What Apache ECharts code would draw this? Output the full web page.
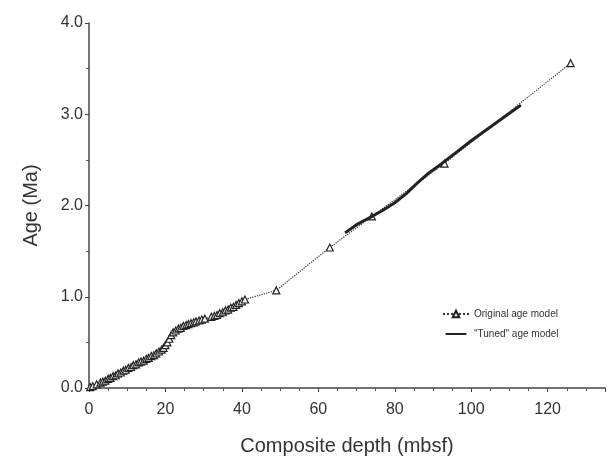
<!DOCTYPE html>
<html>
<head>
<meta charset="utf-8">
<script src="https://cdn.jsdelivr.net/npm/echarts@6/dist/echarts.min.js"></script>
<style>html,body{margin:0;padding:0;background:#fff;}#c{width:608px;height:468px;}</style>
</head>
<body>
<div id="c"></div>
<script>
// Original age model (depth mbsf, age Ma)
const origDepth = [0.3,1,2,3,3.6,4.3,5,5.6,6.3,7,7.6,8.3,9,9.6,10.3,11,11.6,12.3,13,13.6,14.3,15,15.6,16.3,17,17.6,18.3,19,19.5,20,20.5,21,21.5,22,22.7,23.4,24,24.7,25.4,26,26.7,27.4,28,28.8,29.5,30.3,32,32.8,33.5,34.2,35,35.7,36.4,37.1,37.8,38.5,39.2,40,40.8,49,63,74,93,126];
const origAge   = [0.01,0.02,0.04,0.06,0.07,0.08,0.1,0.11,0.13,0.14,0.16,0.17,0.19,0.2,0.22,0.23,0.25,0.26,0.28,0.29,0.3,0.32,0.33,0.35,0.36,0.38,0.4,0.42,0.44,0.47,0.5,0.54,0.58,0.61,0.63,0.65,0.66,0.68,0.69,0.7,0.71,0.72,0.73,0.74,0.75,0.76,0.78,0.79,0.8,0.82,0.83,0.85,0.86,0.88,0.89,0.91,0.93,0.95,0.97,1.07,1.54,1.88,2.46,3.56];
// "Tuned" age model
const tunedDepth = [67,70,74,77,80,83,86,89,92,96,100,104,108,113];
const tunedAge   = [1.7,1.79,1.88,1.95,2.03,2.13,2.25,2.36,2.45,2.58,2.71,2.83,2.95,3.1];
const xTicks = [0,20,40,60,80,100,120];
const yTicks = [0.0,1.0,2.0,3.0,4.0];

const chart = echarts.init(document.getElementById('c'));
const font = 'Liberation Sans, Arial, Helvetica, sans-serif';
chart.setOption({
  animation:false,
  backgroundColor:'#fff',
  grid:{left:89,right:3,top:23,bottom:80},
  legend:{
    orient:'vertical', left:437, top:304, itemGap:10, itemWidth:26, itemHeight:8,
    textStyle:{fontFamily:font,fontSize:10,color:'#333'},
    data:[
      {name:'Original age model'},
      {name:'"Tuned" age model', icon:'path://M0,0 L0.01,0 M0,3.6 L26,3.6 L26,6.4 L0,6.4 Z M0,10 L0.01,10', itemStyle:{color:'#222',borderWidth:0}}
    ]
  },
  xAxis:{
    type:'value', min:0, max:135, interval:20,
    name:'Composite depth (mbsf)', nameLocation:'middle', nameGap:48,
    nameTextStyle:{fontFamily:font,fontSize:20,color:'#333'},
    axisLine:{lineStyle:{color:'#444',width:1.5}},
    axisTick:{show:true,length:4,inside:false,lineStyle:{color:'#444'}},
    minorTick:{show:true,splitNumber:4,length:3,lineStyle:{color:'#555'}},
    axisLabel:{fontFamily:font,fontSize:16,color:'#333',margin:14,showMaxLabel:false,
      formatter:v=>xTicks.includes(v)?String(v):''},
    splitLine:{show:false}
  },
  yAxis:{
    type:'value', min:0, max:4, interval:1,
    name:'Age (Ma)', nameLocation:'middle', nameGap:48,
    nameTextStyle:{fontFamily:font,fontSize:20,color:'#333'},
    axisLine:{lineStyle:{color:'#444',width:1.5}},
    axisTick:{show:true,length:4,lineStyle:{color:'#444'}},
    minorTick:{show:true,splitNumber:2,length:3,lineStyle:{color:'#555'}},
    axisLabel:{fontFamily:font,fontSize:16,color:'#333',margin:6,
      formatter:v=>yTicks.includes(v)?v.toFixed(1):''},
    splitLine:{show:false}
  },
  series:[
    {name:'Original age model', type:'line',
     data:origDepth.map((d,i)=>[d,origAge[i]]),
     symbol:'triangle', symbolSize:7, showAllSymbol:true,
     lineStyle:{type:'dotted',width:1.2,color:'#333'},
     itemStyle:{color:'#fff',borderColor:'#222',borderWidth:1.2}, z:2},
    {name:'"Tuned" age model', type:'line',
     data:tunedDepth.map((d,i)=>[d,tunedAge[i]]),
     symbol:'none', smooth:false,
     lineStyle:{width:3,color:'#222'},
     itemStyle:{color:'#222'}, z:3}
  ]
});
</script>
</body>
</html>
